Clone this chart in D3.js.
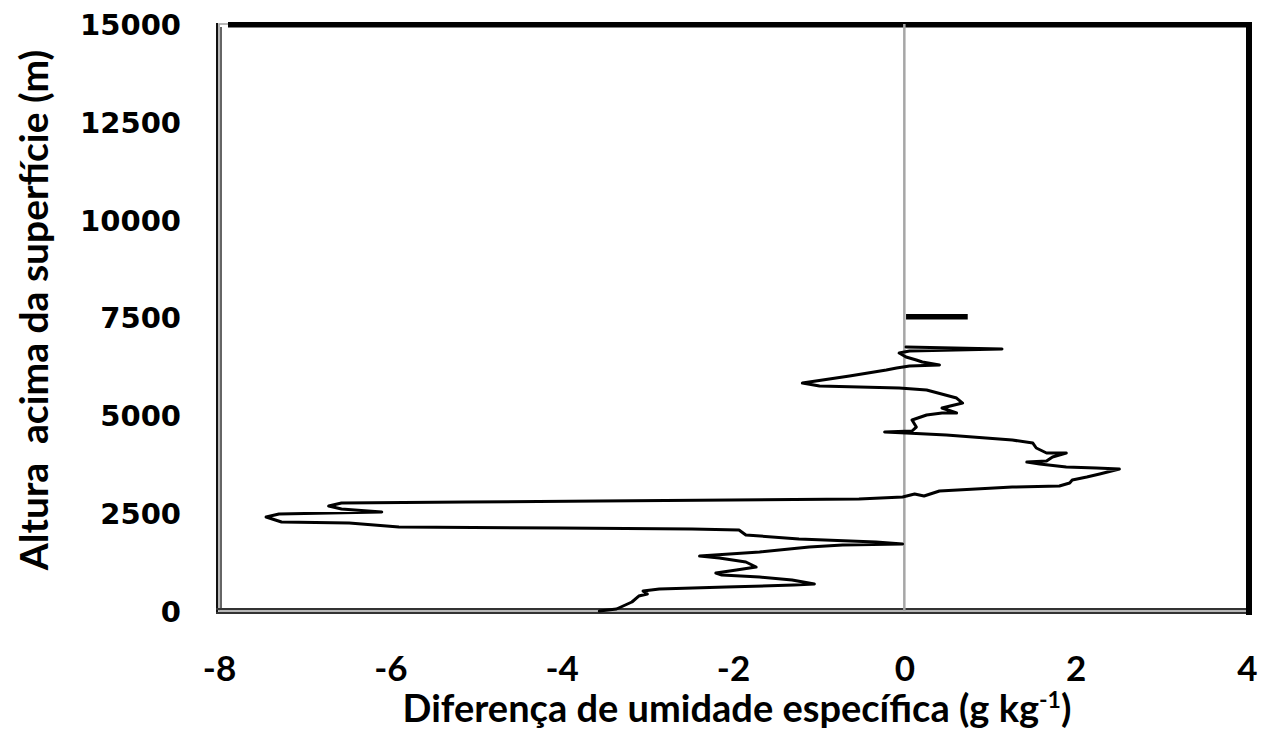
<!DOCTYPE html>
<html>
<head>
<meta charset="utf-8">
<script src="https://cdn.jsdelivr.net/npm/d3@7"></script>
<style>
  html, body { margin: 0; padding: 0; background: #fff; }
  svg { display: block; }
</style>
</head>
<body>
<svg id="chart" width="1270" height="731"></svg>
<script>
// Specific humidity difference profile (g/kg) versus height above surface (m)
const diffQ = [
  -3.56, -3.36, -3.18, -3.10, -3.00, -3.05, -2.86, -2.08, -1.29, -1.05,
  -1.31, -1.69, -2.13, -2.20, -1.96, -1.73, -1.85, -2.16, -2.39, -1.69,
  -1.11, -0.72, -0.02, -0.33, -1.23, -1.85, -1.93, -2.48, -4.03, -5.90,
  -6.48, -7.27, -7.45, -7.30, -6.10, -6.57, -6.72, -6.57, -5.12, -3.56,
  -0.53, -0.02, 0.12, 0.23, 0.41, 1.26, 1.81, 1.93, 1.96, 2.13,
  2.28, 2.51, 2.24, 1.89, 1.58, 1.43, 1.66, 1.73, 1.89, 1.66,
  1.54, 1.50, 1.26, 0.49, 0.02, -0.23, 0.09, 0.14, 0.09, 0.26,
  0.44, 0.61, 0.44, 0.68, 0.61, 0.26, -0.06, -0.99, -1.19, -0.64,
  -0.21, -0.09, 0.06, 0.41, 0.21, 0.14, 0.02, -0.06, 0.06, 1.14,
  0.02
];
const heightM = [
  0, 51, 230, 383, 434, 511, 562, 613, 664, 690,
  792, 869, 920, 971, 1048, 1124, 1252, 1354, 1405, 1507,
  1635, 1686, 1712, 1763, 1840, 1942, 2070, 2095, 2121, 2146,
  2248, 2274, 2402, 2478, 2529, 2606, 2683, 2759, 2785, 2810,
  2862, 2913, 2989, 2938, 3066, 3168, 3194, 3270, 3347, 3424,
  3500, 3628, 3654, 3679, 3756, 3807, 3833, 3935, 4037, 4037,
  4165, 4292, 4369, 4497, 4548, 4573, 4599, 4701, 4880, 5008,
  5059, 5059, 5187, 5314, 5442, 5647, 5698, 5749, 5825, 6004,
  6158, 6209, 6260, 6285, 6362, 6413, 6490, 6592, 6643, 6694,
  6745
];
// Isolated level near 7500 m
const upperDiffQ = [0.02, 0.74];
const upperHeightM = [7520, 7520];

const xTicks = [-8, -6, -4, -2, 0, 2, 4];
const yTicks = [0, 2500, 5000, 7500, 10000, 12500, 15000];
const xTitle = "Diferença de umidade específica (g kg";
const xTitleSup = "-1";
const yTitle = "Altura  acima da superfície (m)";

const svg = d3.select("#chart");
const plotL = 219, plotR = 1247, plotT = 24, plotB = 611;

const x = d3.scaleLinear().domain([-8, 4]).range([plotL, plotR]);
const y = d3.scaleLinear().domain([0, 15000]).range([plotB, plotT]);

// Plot frame
const frame = svg.append("g");
frame.append("rect").attr("x", plotL).attr("y", plotT).attr("width", plotR - plotL).attr("height", plotB - plotT)
  .attr("fill", "#fff").attr("stroke", "#a0a0a0").attr("stroke-width", 1.5);
frame.append("line").attr("x1", 217).attr("x2", 217).attr("y1", 23).attr("y2", 614)
  .attr("stroke", "#111").attr("stroke-width", 2);
frame.append("line").attr("x1", 221).attr("x2", 221).attr("y1", 27).attr("y2", 609)
  .attr("stroke", "#333").attr("stroke-width", 1.5);
frame.append("line").attr("x1", 216).attr("x2", 1246).attr("y1", 609).attr("y2", 609)
  .attr("stroke", "#333").attr("stroke-width", 2);
frame.append("line").attr("x1", 216).attr("x2", 1246).attr("y1", 613).attr("y2", 613)
  .attr("stroke", "#333").attr("stroke-width", 2);
frame.append("rect").attr("x", 228).attr("y", 22).attr("width", 1252 - 228).attr("height", 5.5).attr("fill", "#000");
frame.append("rect").attr("x", 1246).attr("y", 22).attr("width", 6).attr("height", 593).attr("fill", "#000");

// Zero reference line
svg.append("line")
  .attr("x1", x(0)).attr("x2", x(0)).attr("y1", y(15000)).attr("y2", y(0))
  .attr("stroke", "#a6a6a6").attr("stroke-width", 2.5);

// Profile
const pts = diffQ.map((d, i) => [d, heightM[i]]);
const line = d3.line().x(d => x(d[0])).y(d => y(d[1]));
svg.append("path").datum(pts).attr("d", line)
  .attr("fill", "none").attr("stroke", "#000").attr("stroke-width", 3)
  .attr("stroke-linejoin", "round").attr("stroke-linecap", "round");

const upper = upperDiffQ.map((d, i) => [d, upperHeightM[i]]);
svg.append("path").datum(upper).attr("d", line)
  .attr("fill", "none").attr("stroke", "#000").attr("stroke-width", 5.5);

// Axes (plain hyphen-minus in labels)
const plain = d => String(d);
const xAxis = d3.axisBottom(x).tickValues(xTicks).tickSize(0).tickPadding(0).tickFormat(plain);
const gx = svg.append("g").attr("transform", `translate(0,${plotB})`).call(xAxis);
gx.select(".domain").remove();
gx.selectAll("text")
  .attr("y", 70).attr("dy", 0)
  .attr("font-family", "Lato, 'Open Sans', sans-serif").attr("font-weight", 700)
  .attr("font-size", 35).attr("fill", "#000");

const yAxis = d3.axisLeft(y).tickValues(yTicks).tickSize(0).tickPadding(0).tickFormat(plain);
const gy = svg.append("g").attr("transform", `translate(${plotL},0)`).call(yAxis);
gy.select(".domain").remove();
gy.selectAll("text")
  .attr("x", -38).attr("dy", "0.36em")
  .attr("font-family", "'DejaVu Sans', Verdana, sans-serif").attr("font-weight", 700)
  .attr("font-size", 29).attr("fill", "#000");

// Axis titles
const xt = svg.append("text")
  .attr("x", 737).attr("y", 722).attr("text-anchor", "middle")
  .attr("font-family", "Lato, 'Open Sans', sans-serif").attr("font-weight", 700)
  .attr("font-size", 38).attr("fill", "#000");
xt.append("tspan").text(xTitle);
xt.append("tspan").attr("dy", -14).attr("font-size", 23).text(xTitleSup);
xt.append("tspan").attr("dy", 14).text(")");

svg.append("text")
  .attr("transform", "translate(48,310) rotate(-90)")
  .attr("text-anchor", "middle").style("white-space", "pre")
  .attr("font-family", "Lato, 'Open Sans', sans-serif").attr("font-weight", 700)
  .attr("font-size", 39).attr("fill", "#000")
  .text(yTitle);
</script>
</body>
</html>
